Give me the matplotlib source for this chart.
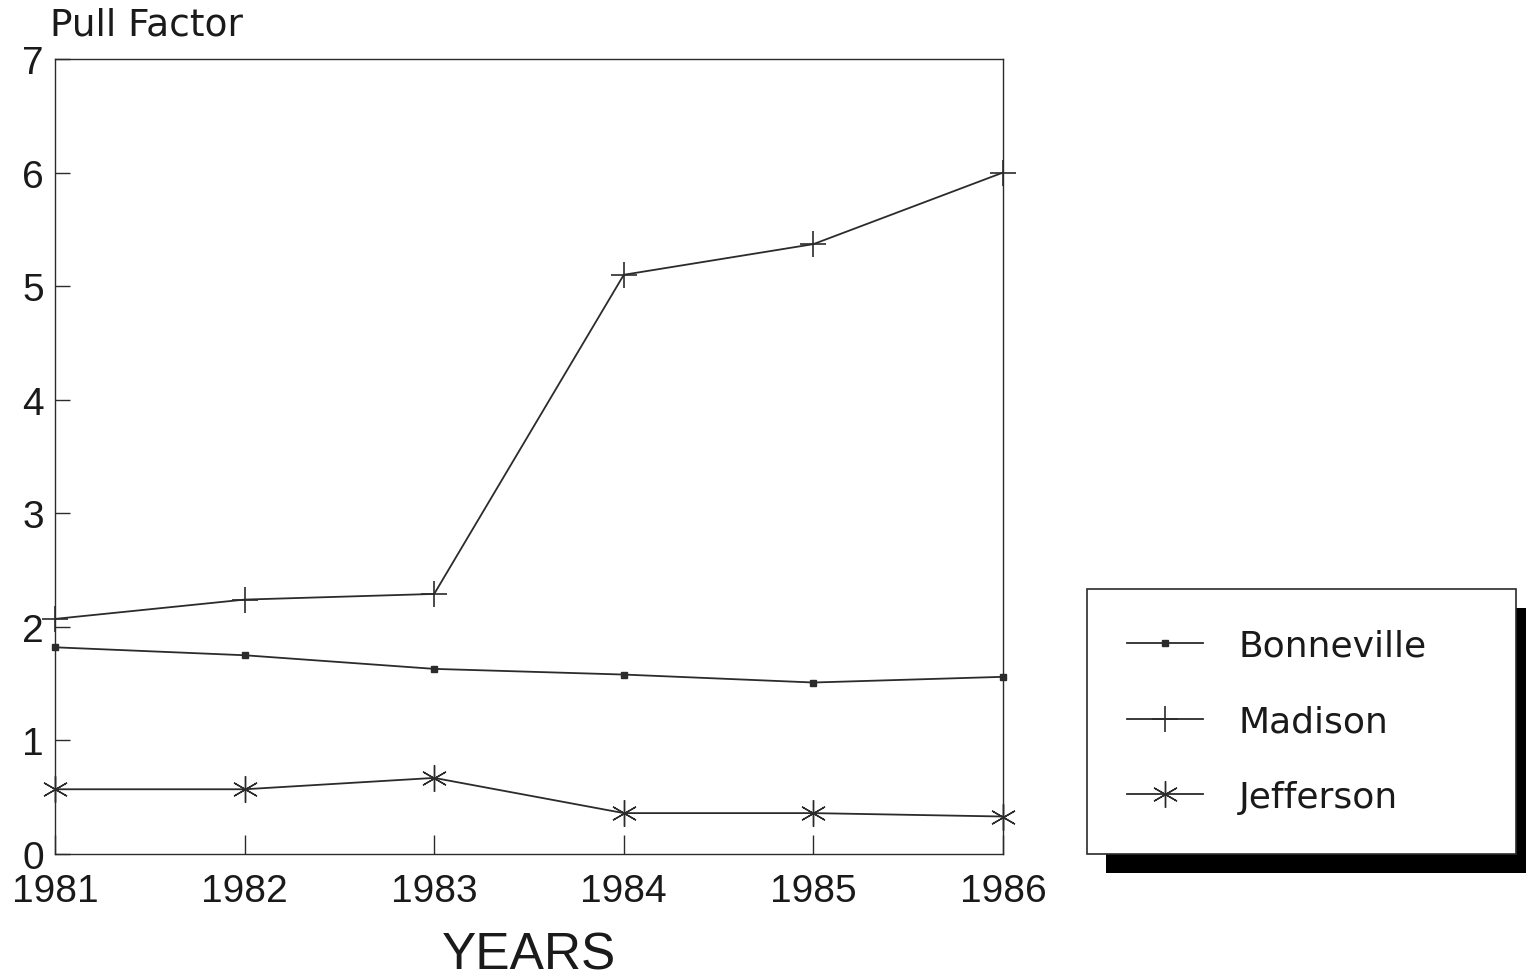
"""Pull factor by county, 1981-1986."""

import matplotlib
matplotlib.use("Agg")
import matplotlib.pyplot as plt
from matplotlib.patches import Rectangle

years = [1981, 1982, 1983, 1984, 1985, 1986]
bonneville = [1.82, 1.75, 1.63, 1.58, 1.51, 1.56]
madison = [2.07, 2.24, 2.29, 5.10, 5.37, 6.00]
jefferson = [0.57, 0.57, 0.67, 0.36, 0.36, 0.33]
y_ticks = [0, 1, 2, 3, 4, 5, 6, 7]

INK = "#2b2b2b"
TICK_FONT = "Liberation Sans"

fig = plt.figure(figsize=(15.26, 9.79), dpi=100)
ax = fig.add_axes([55 / 1526, 124 / 979, 948 / 1526, 795 / 979])

ax.plot(years, bonneville, color=INK, linewidth=1.3, marker="s", markersize=4.5,
        clip_on=False, label="Bonneville")
ax.plot(years, madison, color=INK, linewidth=1.3, marker="+", markersize=19,
        markeredgewidth=1.2, clip_on=False, label="Madison")
ax.plot(years, jefferson, color=INK, linewidth=1.3, marker=(6, 2, 0), markersize=19,
        markeredgewidth=1.0, clip_on=False, label="Jefferson")

ax.set_xlim(1981, 1986)
ax.set_ylim(0, 7)
ax.set_xticks(years)
ax.set_yticks(y_ticks)
ax.tick_params(axis="x", direction="in", length=14, width=1.0, color=INK, pad=14,
               labelsize=28)
ax.tick_params(axis="y", direction="in", length=11, width=1.0, color=INK, pad=8,
               labelsize=28)
for lab in ax.get_xticklabels() + ax.get_yticklabels():
    lab.set_fontfamily(TICK_FONT)
    lab.set_color("#1a1a1a")
for s in ax.spines.values():
    s.set_color(INK)
    s.set_linewidth(1.0)

fig.text(50 / 1526, 1 - 25 / 979, "Pull Factor", fontsize=27, family="DejaVu Sans",
         color="#1a1a1a", ha="left", va="center")
fig.text(529 / 1526, 1 - 956 / 979, "YEARS", fontsize=37, family=TICK_FONT,
         color="#1a1a1a", ha="center", va="center")

leg = ax.legend(loc="upper left",
                bbox_to_anchor=(1087 / 1526, 1 - 590 / 979, 429 / 1526, 0.0),
                bbox_transform=fig.transFigure, mode="expand",
                frameon=True, fancybox=False, framealpha=1.0,
                prop={"family": "DejaVu Sans", "size": 26}, handlelength=2.1,
                handletextpad=1.0, labelspacing=1.15, borderpad=1.1,
                borderaxespad=0)
leg.get_frame().set_edgecolor(INK)
leg.get_frame().set_linewidth(1.2)
leg.get_frame().set_facecolor("white")
for t in leg.get_texts():
    t.set_color("#1a1a1a")

# black drop shadow behind the legend box
fig.canvas.draw()
bb = leg.get_window_extent()
shadow = Rectangle((bb.x0 + 19, bb.y0 - 19), bb.width, bb.height,
                   transform=None, facecolor="black", edgecolor="none", zorder=-5)
fig.add_artist(shadow)

fig.savefig("out.png", dpi=100)
